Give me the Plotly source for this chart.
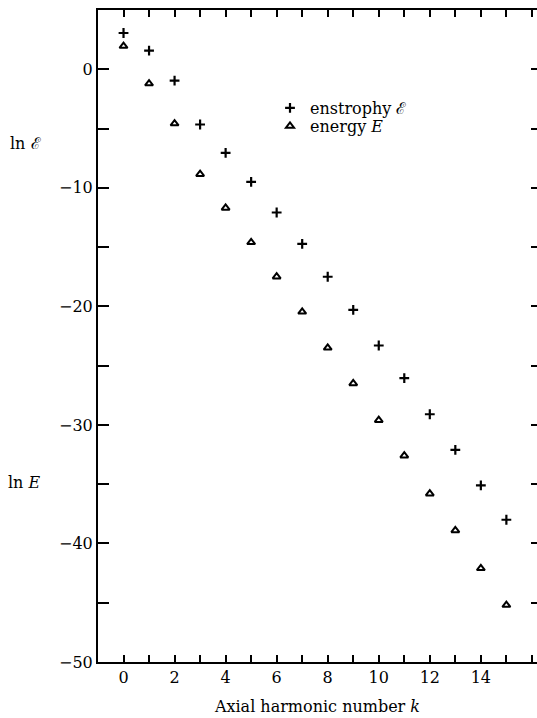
import plotly.graph_objects as go

k = list(range(16))
ln_enstrophy = [3.06, 1.58, -0.95, -4.66, -7.06, -9.5, -12.08, -14.73, -17.5, -20.3,
                -23.3, -26.05, -29.1, -32.1, -35.1, -38.0]
ln_energy = [1.96, -1.21, -4.58, -8.85, -11.7, -14.6, -17.5, -20.46, -23.5, -26.5,
             -29.6, -32.6, -35.8, -38.9, -42.1, -45.2]

x_tickvals = list(range(17))
x_ticktext = [str(v) if v % 2 == 0 and v <= 14 else "" for v in x_tickvals]
y_tickvals = [0, -5, -10, -15, -20, -25, -30, -35, -40, -45, -50]
y_ticktext = ["0", "", "\u221210", "", "\u221220", "", "\u221230", "", "\u221240", "", "\u221250"]
right_tickvals = [0, -5, -10, -15, -20, -25, -30, -35, -40, -45]

FONT = "DejaVu Serif, Liberation Serif, serif"
FS = 16

fig = go.Figure()
fig.add_trace(go.Scatter(
    x=k, y=ln_enstrophy, mode="markers", name="enstrophy \u2130", legend="legend",
    marker=dict(symbol="cross-thin", size=7, color="black",
                line=dict(width=2.2, color="black")),
))
fig.add_trace(go.Scatter(
    x=k, y=ln_energy, mode="markers", name="energy <i>E</i>", legend="legend2",
    marker=dict(symbol="triangle-up-open", size=7, color="black",
                line=dict(width=2, color="black")),
))
# empty trace so the right-hand tick axis is rendered
fig.add_trace(go.Scatter(x=[None], y=[None], yaxis="y2", showlegend=False))

L, R, T, B = 98, 0, 10, 56
W, H = 537, 718
pw = W - L - R
ph = H - T - B

legend_common = dict(xanchor="left", yanchor="middle",
                     bgcolor="rgba(0,0,0,0)", font=dict(family=FONT, size=FS),
                     itemwidth=30, tracegroupgap=0)

fig.update_layout(
    width=W, height=H,
    margin=dict(l=L, r=R, t=T, b=B),
    paper_bgcolor="white", plot_bgcolor="white",
    font=dict(family=FONT, size=FS, color="black"),
    showlegend=True,
    legend=dict(x=(270 - L) / pw, y=(H - B - 108) / ph, **legend_common),
    legend2=dict(x=(270 - L) / pw, y=(H - B - 126) / ph, **legend_common),
    xaxis=dict(
        range=[-1.0, 16.2], tickmode="array", tickvals=x_tickvals, ticktext=x_ticktext,
        ticks="inside", ticklen=7, tickwidth=1.5, tickcolor="black",
        showline=True, linecolor="black", linewidth=2, mirror="ticks",
        showgrid=False, zeroline=False,
        title=dict(text="Axial harmonic number <i>k</i>", standoff=15,
                   font=dict(family=FONT, size=FS)),
        tickfont=dict(family=FONT, size=FS),
    ),
    yaxis=dict(
        range=[-50, 5], tickmode="array", tickvals=y_tickvals, ticktext=y_ticktext,
        ticks="inside", ticklen=11, tickwidth=1.5, tickcolor="black",
        showline=True, linecolor="black", linewidth=2, mirror=False,
        showgrid=False, zeroline=False,
        tickfont=dict(family=FONT, size=FS),
    ),
    yaxis2=dict(
        range=[-50, 5], overlaying="y", side="right", tickmode="array",
        tickvals=right_tickvals, showticklabels=False,
        ticks="inside", ticklen=6, tickwidth=1.5, tickcolor="black",
        showline=False, showgrid=False, zeroline=False,
    ),
)

fig.add_annotation(text="ln \u2130", xref="paper", yref="paper",
                   x=(8 - L) / pw, y=(H - B - 143) / ph,
                   xanchor="left", yanchor="middle", showarrow=False,
                   font=dict(family=FONT, size=FS))
fig.add_annotation(text="ln <i>E</i>", xref="paper", yref="paper",
                   x=(6 - L) / pw, y=(H - B - 482) / ph,
                   xanchor="left", yanchor="middle", showarrow=False,
                   font=dict(family=FONT, size=FS))

fig.write_html("out.html")
